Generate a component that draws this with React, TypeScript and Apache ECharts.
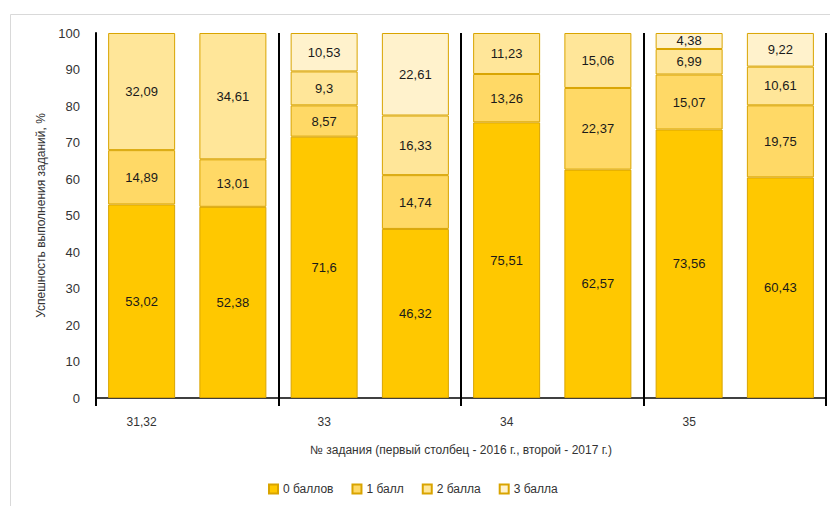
import React, { useEffect, useRef } from "react";
import * as echarts from "echarts";

const categories = ["31,32", "", "33", "", "34", "", "35", ""];
const groups = ["31,32", "33", "34", "35"];
const seriesNames = ["0 баллов", "1 балл", "2 балла", "3 балла"];
const score0 = [53.02, 52.38, 71.6, 46.32, 75.51, 62.57, 73.56, 60.43];
const score1 = [14.89, 13.01, 8.57, 14.74, 13.26, 22.37, 15.07, 19.75];
const score2 = [32.09, 34.61, 9.3, 16.33, 11.23, 15.06, 6.99, 10.61];
const score3 = [null, null, 10.53, 22.61, null, null, 4.38, 9.22];

const colors = ["#FFC800", "#FFD966", "#FFE699", "#FFF2CC"];
const FONT = "'Liberation Sans', Arial, sans-serif";

export default function App() {
  const ref = useRef<HTMLDivElement>(null);
  useEffect(() => {
    if (!ref.current) return;
    const chart = echarts.init(ref.current, null, { renderer: "svg" });
    const all = [score0, score1, score2, score3];
    const option: any = {
      animation: false,
      backgroundColor: "#fff",
      textStyle: { fontFamily: FONT },
      graphic: [
        {
          type: "rect",
          shape: { x: 10.5, y: 14.5, width: 840, height: 520 },
          style: { fill: "none", stroke: "#d9d9d9", lineWidth: 1 },
          silent: true,
          z: 0,
        },
      ],
      grid: { left: 96, right: 4, top: 33, bottom: 108, containLabel: false },
      legend: {
        bottom: 6,
        left: 263,
        itemWidth: 9,
        itemHeight: 9,
        itemGap: 18,
        icon: "rect",
        textStyle: { fontFamily: FONT, fontSize: 12, color: "#333" },
        data: seriesNames,
      },
      xAxis: [
        {
          type: "category",
          data: categories,
          boundaryGap: true,
          name: "№ задания (первый столбец - 2016 г., второй - 2017 г.)",
          nameLocation: "middle",
          nameGap: 46,
          nameTextStyle: { fontFamily: FONT, fontSize: 12, color: "#333" },
          axisLine: { show: true, lineStyle: { color: "#000", width: 1.5 } },
          axisTick: { show: false },
          axisLabel: { interval: 0, margin: 18, fontFamily: FONT, fontSize: 12, color: "#333" },
          splitLine: { show: false },
        },
        {
          type: "category",
          data: groups,
          position: "bottom",
          boundaryGap: true,
          axisLine: { show: false },
          axisTick: { show: true, interval: 0, length: 8, lineStyle: { color: "#000", width: 2 } },
          axisLabel: { show: false },
          splitLine: { show: true, interval: 0, lineStyle: { color: "#000", width: 2 } },
        },
      ],
      yAxis: {
        type: "value",
        min: 0,
        max: 100,
        interval: 10,
        name: "Успешность выполнения заданий, %",
        nameLocation: "middle",
        nameGap: 48,
        nameTextStyle: { fontFamily: FONT, fontSize: 12, color: "#333" },
        axisLine: { show: true, lineStyle: { color: "#000", width: 2 } },
        axisTick: { show: false },
        splitLine: { show: false },
        axisLabel: {
          margin: 16,
          fontFamily: FONT,
          fontSize: 13,
          color: "#333",
        },
      },
      series: all.map((arr, i) => ({
        name: seriesNames[i],
        type: "bar",
        stack: "total",
        xAxisIndex: 0,
        barWidth: 67,
        data: arr,
        itemStyle: { color: colors[i], borderColor: "#D9A400", borderWidth: 1 },
        label: {
          show: true,
          position: "inside",
          fontFamily: FONT,
          fontSize: 13,
          color: "#1a1a1a",
          formatter: (p: any) =>
            p.value == null || p.value === 0 ? "" : String(p.value).replace(".", ","),
        },
      })),
    };
    chart.setOption(option);
    return () => chart.dispose();
  }, []);
  return (
    <div
      ref={ref}
      style={{ position: "fixed", left: 0, top: 0, width: 830, height: 506 }}
    />
  );
}
